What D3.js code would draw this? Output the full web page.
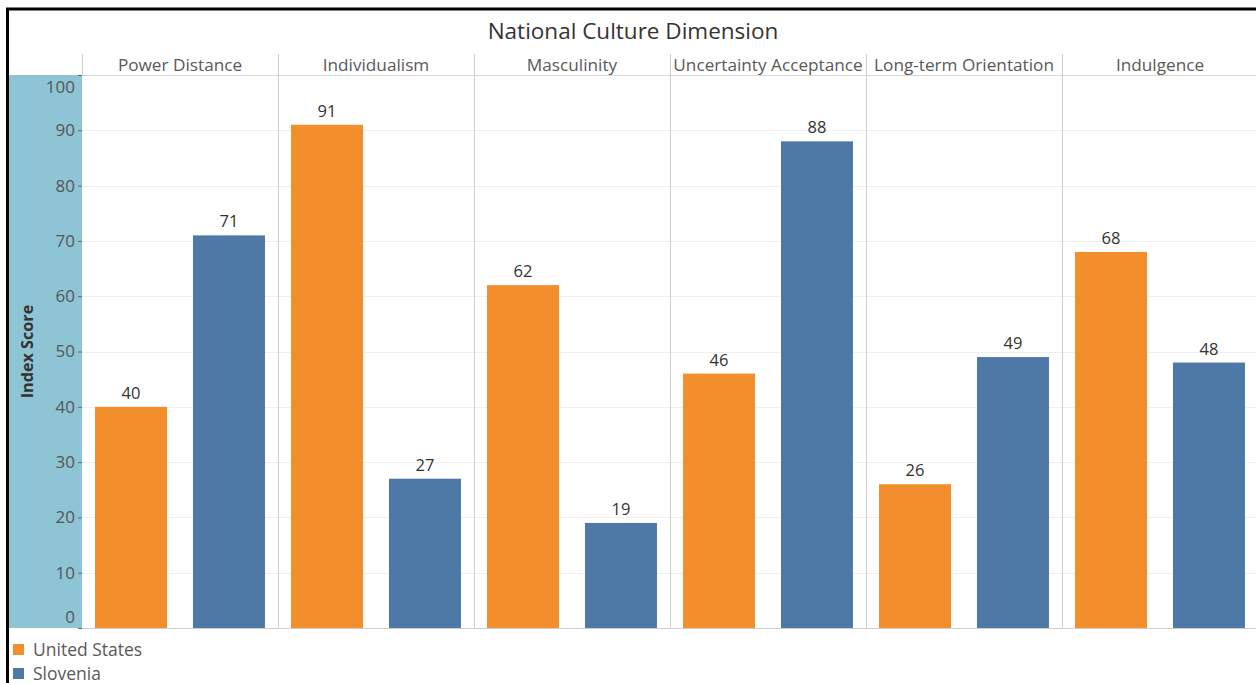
<!DOCTYPE html>
<html>
<head>
<meta charset="utf-8">
<script src="https://cdn.jsdelivr.net/npm/d3@7"></script>
<style>
  body { margin: 0; background: #fff; }
  text { font-family: "Open Sans", "Noto Sans", sans-serif; }
</style>
</head>
<body>
<div id="chart"></div>
<script>
var dimensions = ["Power Distance", "Individualism", "Masculinity", "Uncertainty Acceptance", "Long-term Orientation", "Indulgence"];
var countries = ["United States", "Slovenia"];
var usScores = [40, 91, 62, 46, 26, 68];
var sloveniaScores = [71, 27, 19, 88, 49, 48];
var yTicks = [0, 10, 20, 30, 40, 50, 60, 70, 80, 90, 100];

var W = 1256, H = 683;
var plot = {left: 82, right: 1258, top: 75, bottom: 628};

var svg = d3.select("#chart").append("svg")
    .attr("width", W)
    .attr("height", H);

var data = dimensions.map(function(d, i) {
  return {dim: d, values: [{key: countries[0], value: usScores[i]}, {key: countries[1], value: sloveniaScores[i]}]};
});

var x0 = d3.scaleBand()
    .domain(dimensions)
    .range([plot.left, plot.right]);

var x1 = d3.scaleBand()
    .domain(countries)
    .range([0, x0.bandwidth()])
    .paddingInner(0.265)
    .paddingOuter(0.133);

var y = d3.scaleLinear()
    .domain([0, 100])
    .range([plot.bottom, plot.top]);

var z = d3.scaleOrdinal()
    .domain(countries)
    .range(["#f28e2b", "#4e79a7"]);

// outer frame (left + top)
svg.append("line").attr("x1", 7.5).attr("x2", 7.5).attr("y1", 8).attr("y2", H)
    .attr("stroke", "#000").attr("stroke-width", 3);
svg.append("line").attr("x1", 6).attr("x2", W).attr("y1", 9).attr("y2", 9)
    .attr("stroke", "#000").attr("stroke-width", 3);

svg.append("text")
    .attr("x", 633).attr("y", 39)
    .attr("text-anchor", "middle")
    .attr("font-size", 22.5)
    .attr("fill", "#333")
    .text("National Culture Dimension");

// y axis band
svg.append("rect")
    .attr("x", 9).attr("y", plot.top)
    .attr("width", plot.left - 9).attr("height", plot.bottom - plot.top)
    .attr("fill", "#8ec5d5");

// gridlines
svg.append("g")
  .selectAll("line")
  .data(yTicks.slice(1, -1))
  .enter().append("line")
    .attr("x1", plot.left).attr("x2", W)
    .attr("y1", function(d) { return Math.round(y(d)) + 0.5; })
    .attr("y2", function(d) { return Math.round(y(d)) + 0.5; })
    .attr("stroke", "#efefef");

// header lines
svg.append("line").attr("x1", plot.left).attr("x2", W)
    .attr("y1", plot.top + 0.5).attr("y2", plot.top + 0.5)
    .attr("stroke", "#d9d9d9");
svg.append("g")
  .selectAll("line")
  .data(dimensions)
  .enter().append("line")
    .attr("x1", function(d) { return Math.round(x0(d)) + 0.5; })
    .attr("x2", function(d) { return Math.round(x0(d)) + 0.5; })
    .attr("y1", 54)
    .attr("y2", function(d, i) { return i == 0 ? plot.top : plot.bottom; })
    .attr("stroke", "#d0d0d0");

svg.append("g")
  .selectAll("text")
  .data(dimensions)
  .enter().append("text")
    .attr("x", function(d) { return x0(d) + x0.bandwidth() / 2; })
    .attr("y", 71)
    .attr("text-anchor", "middle")
    .attr("font-size", 17.2)
    .attr("fill", "#595959")
    .text(function(d) { return d; });

// bars
var groups = svg.append("g")
  .selectAll("g")
  .data(data)
  .enter().append("g")
    .attr("transform", function(d) { return "translate(" + x0(d.dim) + ",0)"; });

groups.selectAll("rect")
  .data(function(d) { return d.values; })
  .enter().append("rect")
    .attr("x", function(d) { return x1(d.key); })
    .attr("y", function(d) { return y(d.value); })
    .attr("width", x1.bandwidth())
    .attr("height", function(d) { return plot.bottom - y(d.value); })
    .attr("fill", function(d) { return z(d.key); });

groups.selectAll("text")
  .data(function(d) { return d.values; })
  .enter().append("text")
    .attr("x", function(d) { return x1(d.key) + x1.bandwidth() / 2; })
    .attr("y", function(d) { return y(d.value) - 8; })
    .attr("text-anchor", "middle")
    .attr("font-size", 16.5)
    .attr("fill", "#333")
    .text(function(d) { return d.value; });

// zero line
svg.append("line").attr("x1", plot.left).attr("x2", W)
    .attr("y1", plot.bottom + 0.5).attr("y2", plot.bottom + 0.5)
    .attr("stroke", "#cfcfcf");

// y axis
var yAxis = svg.append("g")
    .attr("transform", "translate(" + plot.left + ",0)")
    .call(d3.axisLeft(y).tickValues(yTicks).tickSize(4).tickPadding(3));
yAxis.select(".domain").remove();
yAxis.selectAll(".tick line").attr("stroke", "#666");
yAxis.selectAll(".tick text")
    .attr("font-family", "Open Sans, Noto Sans, sans-serif")
    .attr("font-size", 17)
    .attr("fill", "#555")
    .attr("dy", function(d) { return d == 0 ? "-0.35em" : d == 100 ? "1.05em" : "0.32em"; });

svg.append("text")
    .attr("transform", "translate(33," + (plot.top + plot.bottom) / 2 + ") rotate(-90)")
    .attr("text-anchor", "middle")
    .attr("font-size", 16.2)
    .attr("font-weight", "bold")
    .attr("fill", "#333")
    .text("Index Score");

// legend
var legend = svg.append("g")
  .selectAll("g")
  .data(countries)
  .enter().append("g")
    .attr("transform", function(d, i) { return "translate(13," + (644 + i * 24) + ")"; });

legend.append("rect")
    .attr("width", 11).attr("height", 11)
    .attr("fill", z);

legend.append("text")
    .attr("x", 20).attr("y", 6)
    .attr("dy", "0.35em")
    .attr("font-size", 17.5)
    .attr("fill", "#595959")
    .text(function(d) { return d; });
</script>
</body>
</html>
